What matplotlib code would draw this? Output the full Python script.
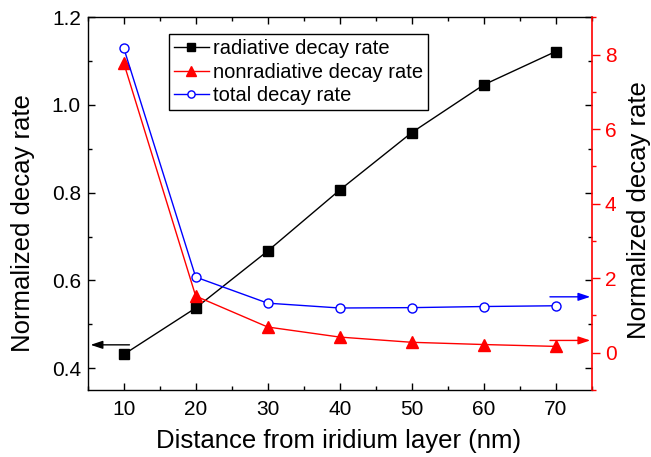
import matplotlib
matplotlib.use("Agg")
import matplotlib.pyplot as plt
from matplotlib.ticker import MultipleLocator

plt.rcParams['font.family'] = ['Liberation Sans', 'DejaVu Sans']

distance = [10, 20, 30, 40, 50, 60, 70]
radiative = [0.431, 0.537, 0.667, 0.806, 0.937, 1.046, 1.122]
nonradiative = [7.78, 1.52, 0.69, 0.42, 0.28, 0.22, 0.17]
total = [8.18, 2.03, 1.33, 1.20, 1.21, 1.24, 1.26]

W, H = 651, 457
fig = plt.figure(figsize=(W / 100, H / 100), dpi=100)
ax = fig.add_axes([87.7 / W, 1 - 390 / H, (591.7 - 87.7) / W, (390 - 17.3) / H])
ax2 = ax.twinx()

lw = 1.0
h1, = ax.plot(distance, radiative, '-s', color='black', lw=lw, ms=6.5,
              mfc='black', mec='black', label='radiative decay rate', zorder=3)
h2, = ax2.plot(distance, nonradiative, '-^', color='red', lw=lw, ms=8.5,
               mfc='red', mec='red', label='nonradiative decay rate', zorder=3)
h3, = ax2.plot(distance, total, '-o', color='blue', lw=lw, ms=6.5,
               mfc='white', mec='blue', mew=1.0, label='total decay rate', zorder=3)

ax.set_xlim(5, 75)
ax.set_ylim(0.35, 1.2)
ax2.set_ylim(-1, 9)

ax.xaxis.set_major_locator(MultipleLocator(10))
ax.xaxis.set_minor_locator(MultipleLocator(5))
ax.yaxis.set_major_locator(MultipleLocator(0.2))
ax.yaxis.set_minor_locator(MultipleLocator(0.1))
ax2.yaxis.set_major_locator(MultipleLocator(2))
ax2.yaxis.set_minor_locator(MultipleLocator(1))
ax.yaxis.set_major_formatter(matplotlib.ticker.FormatStrFormatter('%.1f'))

ax.tick_params(which='both', direction='in', top=True, right=True,
               labelright=False, width=1.0, labelsize=15)
ax.tick_params(which='major', length=5)
ax.tick_params(which='minor', length=3)
ax.tick_params(axis='y', pad=5)
ax.tick_params(axis='x', pad=7)

ax2.tick_params(axis='y', which='both', direction='out', colors='red',
                width=1.0, labelsize=15, pad=4)
ax2.tick_params(axis='y', which='major', length=5.5)
ax2.tick_params(axis='y', which='minor', length=3)

for s in ['left', 'bottom', 'top']:
    ax.spines[s].set_linewidth(1.0)
ax.spines['right'].set_visible(False)
for s in ['left', 'bottom', 'top']:
    ax2.spines[s].set_visible(False)
ax2.spines['right'].set_color('red')
ax2.spines['right'].set_linewidth(1.2)

# arrows indicating axes
arrow_kw = dict(arrowstyle='-|>,head_length=0.6,head_width=0.2', lw=1.0,
                mutation_scale=12, shrinkA=0, shrinkB=0)
ax.annotate('', xy=(5.4, 0.453), xytext=(10.8, 0.453),
            arrowprops=dict(color='black', **arrow_kw))
ax2.annotate('', xy=(74.8, 1.50), xytext=(69.2, 1.50),
             arrowprops=dict(color='blue', **arrow_kw))
ax2.annotate('', xy=(74.8, 0.33), xytext=(69.2, 0.33),
             arrowprops=dict(color='red', **arrow_kw))

leg = ax2.legend(handles=[h1, h2, h3], loc='upper left',
                 bbox_to_anchor=(169.3 / W, 1 - 34.3 / H),
                 bbox_transform=fig.transFigure, borderaxespad=0,
                 fontsize=14.5, frameon=True, fancybox=False,
                 edgecolor='black', framealpha=1, handlelength=1.7,
                 handletextpad=0.2, labelspacing=0.22, borderpad=0.25,
                 markerscale=0.8)
leg.get_frame().set_linewidth(1.0)

fig.text(339 / W, 1 - 448 / H, 'Distance from iridium layer (nm)',
         ha='center', va='baseline', fontsize=18.5)
fig.text(23 / W, 1 - 223 / H, 'Normalized decay rate', rotation=90,
         ha='center', va='center', fontsize=18.5)
fig.text(639 / W, 1 - 210 / H, 'Normalized decay rate', rotation=90,
         ha='center', va='center', fontsize=18.5)

fig.savefig('out.png', dpi=100)
